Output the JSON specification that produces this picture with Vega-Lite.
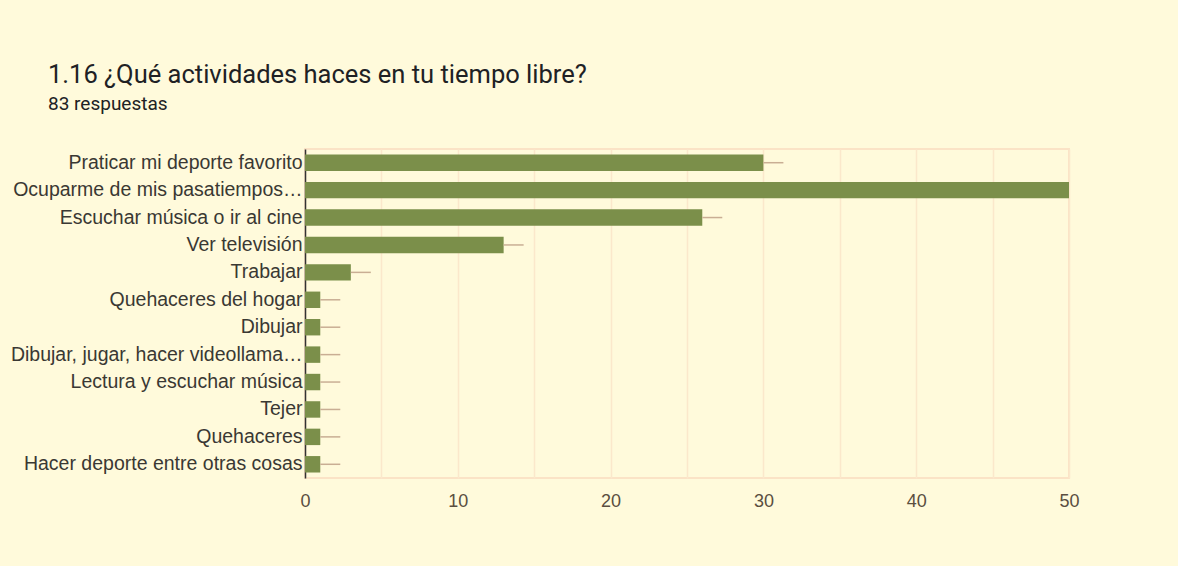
{
  "$schema": "https://vega.github.io/schema/vega-lite/v6.json",
  "width": 764,
  "height": 329,
  "autosize": "none",
  "padding": {"left": 305, "top": 149, "right": 109, "bottom": 88},
  "background": "#FFFADB",
  "title": {
    "text": "1.16 ¿Qué actividades haces en tu tiempo libre?",
    "subtitle": "83 respuestas",
    "anchor": "start",
    "frame": "group",
    "dx": -257,
    "offset": 35,
    "font": "Roboto",
    "fontSize": 25.5,
    "fontWeight": "normal",
    "color": "#202124",
    "subtitleFont": "Roboto",
    "subtitleFontSize": 19,
    "subtitleColor": "#202124",
    "subtitlePadding": 7
  },
  "data": {
    "values": [
      {"actividad": "Praticar mi deporte favorito", "respuestas": 30},
      {"actividad": "Ocuparme de mis pasatiempos…", "respuestas": 50},
      {"actividad": "Escuchar música o ir al cine", "respuestas": 26},
      {"actividad": "Ver televisión", "respuestas": 13},
      {"actividad": "Trabajar", "respuestas": 3},
      {"actividad": "Quehaceres del hogar", "respuestas": 1},
      {"actividad": "Dibujar", "respuestas": 1},
      {"actividad": "Dibujar, jugar, hacer videollama…", "respuestas": 1},
      {"actividad": "Lectura y escuchar música", "respuestas": 1},
      {"actividad": "Tejer", "respuestas": 1},
      {"actividad": "Quehaceres", "respuestas": 1},
      {"actividad": "Hacer deporte entre otras cosas", "respuestas": 1}
    ]
  },
  "encoding": {
    "y": {
      "field": "actividad",
      "type": "nominal",
      "sort": null,
      "scale": {"paddingInner": 0.4, "paddingOuter": 0.2},
      "axis": {
        "title": null,
        "ticks": false,
        "domain": true,
        "domainColor": "#333333",
        "domainWidth": 1.5,
        "labelFont": "Liberation Sans",
        "labelFontSize": 19.5,
        "labelColor": "#3a3833",
        "labelPadding": 3,
        "labelLimit": 320,
        "grid": false
      }
    }
  },
  "layer": [
    {
      "mark": {"type": "bar", "color": "#7B8F4A"},
      "encoding": {
        "x": {
          "field": "respuestas",
          "type": "quantitative",
          "scale": {"domain": [0, 50], "nice": false},
          "axis": {
            "title": null,
            "values": [0, 5, 10, 15, 20, 25, 30, 35, 40, 45, 50],
            "labelExpr": "datum.value % 10 === 0 ? datum.label : ''",
            "labelFlush": false,
            "grid": true,
            "gridColor": "#FBE8CB",
            "gridWidth": 1.5,
            "domain": false,
            "ticks": false,
            "labelFont": "Liberation Sans",
            "labelFontSize": 18,
            "labelColor": "#5a4e40",
            "labelPadding": 14
          }
        }
      }
    },
    {
      "mark": {"type": "rule", "color": "#C9AE94", "strokeWidth": 1.5, "x2Offset": 20, "clip": true},
      "encoding": {
        "x": {"field": "respuestas", "type": "quantitative"},
        "x2": {"field": "respuestas"}
      }
    }
  ],
  "config": {
    "view": {"stroke": "#FBE3C6", "strokeWidth": 2}
  }
}
